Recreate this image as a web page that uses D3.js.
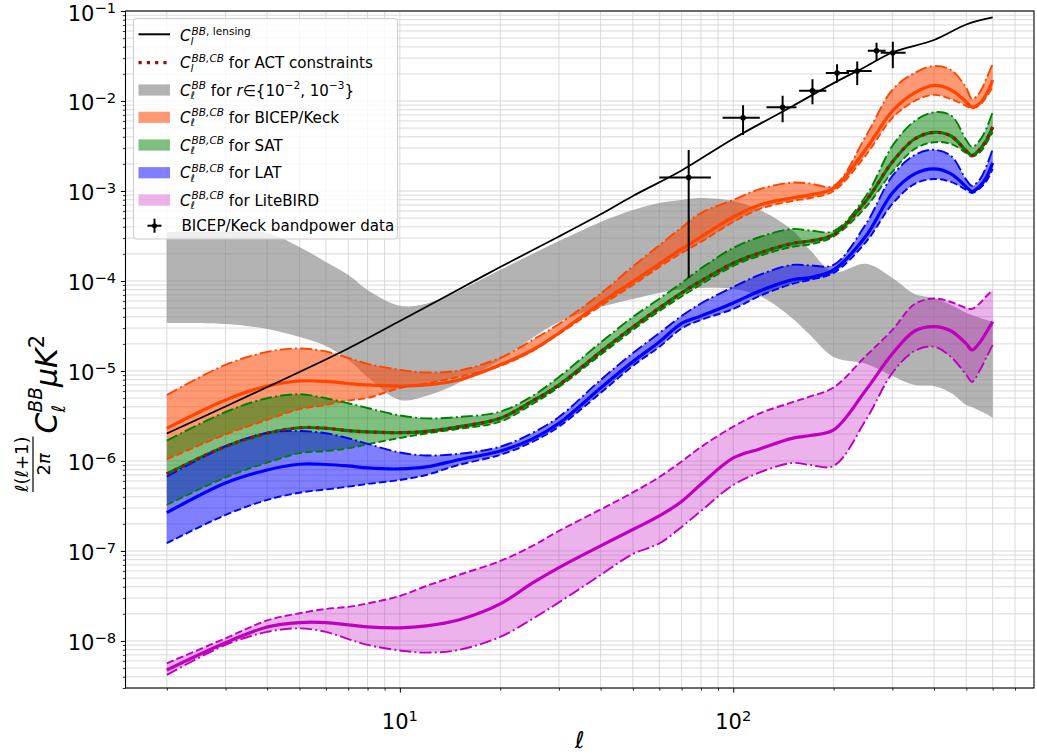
<!DOCTYPE html>
<html><head><meta charset="utf-8">
<script src="https://cdn.jsdelivr.net/npm/d3@7"></script>
<style>body{margin:0;background:#fff} svg{display:block} text{white-space:pre}</style>
</head><body><svg id="c" width="1037" height="755"></svg>
<script>
// ---------------- data ----------------
const ell = [2,3,4,5,6,7,8,10,12,15,20,25,30,40,50,60,70,80,100,120,150,170,200,250,300,350,400,450,500,520,550,575,600];
const lensEll = [2,3,5,7,10,15,20,30,40,50,70,100,150,200,250,300,400,500,600];
const lensBB = [2.02e-6,4.03e-6,9.75e-6,1.78e-5,3.59e-5,8.05e-5,1.43e-4,3.12e-4,5.51e-4,8.80e-4,1.69e-3,3.81e-3,8.70e-3,1.58e-2,2.42e-2,3.46e-2,4.76e-2,7.08e-2,8.47e-2];
const rTop = [3.50e-4,3.50e-4,3.42e-4,2.39e-4,1.63e-4,1.17e-4,7.94e-5,5.30e-5,5.60e-5,7.74e-5,1.33e-4,2.00e-4,2.78e-4,4.53e-4,6.15e-4,7.36e-4,7.94e-4,8.36e-4,7.74e-4,6.15e-4,3.69e-4,2.21e-4,1.26e-4,1.55e-4,1.08e-4,7.17e-5,6.47e-5,5.41e-5,4.41e-5,4.19e-5,3.88e-5,3.69e-5,3.50e-5];
const rBot = [3.42e-5,3.33e-5,2.93e-5,2.39e-5,1.90e-5,1.33e-5,8.58e-6,4.76e-6,5.28e-6,7.36e-6,1.33e-5,2.33e-5,3.50e-5,5.14e-5,6.31e-5,7.36e-5,8.15e-5,8.36e-5,8.15e-5,6.81e-5,3.88e-5,2.51e-5,1.43e-5,1.20e-5,8.80e-6,6.99e-6,6.81e-6,5.70e-6,4.19e-6,3.98e-6,3.59e-6,3.33e-6,3.01e-6];
const bkUp = [5.41e-6,1.17e-5,1.63e-5,1.78e-5,1.65e-5,1.40e-5,1.20e-5,1.03e-5,9.62e-6,1.01e-5,1.40e-5,2.21e-5,3.33e-5,7.23e-5,1.45e-4,2.49e-4,3.93e-4,5.70e-4,7.94e-4,1.05e-3,1.24e-3,1.21e-3,1.14e-3,4.08e-3,1.33e-2,2.05e-2,2.45e-2,2.21e-2,1.40e-2,1.05e-2,1.26e-2,1.80e-2,2.58e-2];
const bkMid = [2.30e-6,4.76e-6,6.81e-6,7.74e-6,7.65e-6,7.26e-6,6.99e-6,6.81e-6,6.99e-6,7.94e-6,1.17e-5,1.71e-5,2.64e-5,5.70e-5,9.87e-5,1.55e-4,2.27e-4,3.08e-4,5.14e-4,6.99e-4,8.36e-4,9.03e-4,1.08e-3,2.93e-3,7.74e-3,1.23e-2,1.49e-2,1.33e-2,9.75e-3,8.58e-3,9.50e-3,1.20e-2,1.71e-2];
const bkLow = [1.04e-6,1.97e-6,2.86e-6,3.76e-6,4.19e-6,4.70e-6,5.01e-6,6.47e-6,7.26e-6,8.58e-6,1.14e-5,1.67e-5,2.58e-5,5.28e-5,9.03e-5,1.43e-4,2.05e-4,2.71e-4,4.53e-4,6.31e-4,7.74e-4,8.36e-4,1.00e-3,2.51e-3,6.47e-3,1.00e-2,1.17e-2,1.05e-2,8.80e-3,8.25e-3,9.14e-3,1.11e-2,1.43e-2];
const satUp = [1.68e-6,3.50e-6,4.98e-6,5.51e-6,4.98e-6,4.38e-6,3.88e-6,3.20e-6,2.97e-6,3.08e-6,3.53e-6,5.28e-6,8.58e-6,2.07e-5,3.98e-5,6.36e-5,9.50e-5,1.38e-4,2.33e-4,3.08e-4,3.78e-4,3.64e-4,3.59e-4,8.80e-4,3.16e-3,6.00e-3,7.49e-3,6.90e-3,3.69e-3,3.08e-3,3.69e-3,5.01e-3,7.55e-3];
const satMid = [7.17e-7,1.45e-6,2.03e-6,2.34e-6,2.31e-6,2.17e-6,2.10e-6,2.06e-6,2.13e-6,2.39e-6,2.98e-6,4.64e-6,6.99e-6,1.63e-5,3.08e-5,5.01e-5,7.36e-5,1.00e-4,1.58e-4,2.05e-4,2.61e-4,2.78e-4,3.28e-4,7.74e-4,2.10e-3,3.78e-3,4.49e-3,4.08e-3,2.78e-3,2.48e-3,2.93e-3,3.69e-3,5.14e-3];
const satLow = [3.24e-7,6.56e-7,9.57e-7,1.22e-6,1.29e-6,1.38e-6,1.53e-6,1.80e-6,2.02e-6,2.27e-6,2.73e-6,4.30e-6,6.64e-6,1.51e-5,2.86e-5,4.64e-5,6.73e-5,9.14e-5,1.47e-4,1.90e-4,2.39e-4,2.55e-4,3.12e-4,6.64e-4,1.63e-3,2.93e-3,3.48e-3,3.33e-3,2.64e-3,2.42e-3,2.71e-3,3.42e-3,4.53e-3];
const actBB = [7.17e-7,1.45e-6,2.03e-6,2.34e-6,2.31e-6,2.17e-6,2.10e-6,2.06e-6,2.13e-6,2.39e-6,2.98e-6,4.64e-6,6.99e-6,1.63e-5,3.08e-5,5.01e-5,7.36e-5,1.00e-4,1.58e-4,2.05e-4,2.61e-4,2.78e-4,3.28e-4,7.74e-4,2.10e-3,3.78e-3,4.49e-3,4.08e-3,2.78e-3,2.48e-3,2.93e-3,3.69e-3,5.14e-3];
const latUp = [6.69e-7,1.45e-6,2.05e-6,2.15e-6,2.03e-6,1.79e-6,1.55e-6,1.24e-6,1.15e-6,1.20e-6,1.44e-6,2.05e-6,3.08e-6,7.94e-6,1.58e-5,2.64e-5,4.08e-5,5.62e-5,8.58e-5,1.17e-4,1.51e-4,1.49e-4,1.51e-4,4.30e-4,1.47e-3,2.51e-3,2.87e-3,2.45e-3,1.33e-3,1.14e-3,1.36e-3,1.90e-3,2.93e-3];
const latMid = [2.66e-7,5.70e-7,7.94e-7,9.19e-7,9.14e-7,8.80e-7,8.36e-7,8.15e-7,8.58e-7,1.03e-6,1.29e-6,1.76e-6,2.62e-6,6.47e-6,1.27e-5,2.10e-5,3.37e-5,4.08e-5,5.70e-5,7.74e-5,1.03e-4,1.09e-4,1.33e-4,3.16e-4,9.50e-4,1.55e-3,1.76e-3,1.55e-3,1.11e-3,9.87e-4,1.14e-3,1.43e-3,2.05e-3];
const latLow = [1.22e-7,2.51e-7,3.69e-7,4.44e-7,4.82e-7,5.18e-7,5.55e-7,6.15e-7,6.99e-7,9.03e-7,1.17e-6,1.63e-6,2.41e-6,5.70e-6,1.14e-5,1.85e-5,2.97e-5,3.69e-5,4.89e-5,6.81e-5,9.26e-5,1.03e-4,1.23e-4,2.71e-4,7.17e-4,1.20e-3,1.36e-3,1.26e-3,1.03e-3,9.50e-4,1.08e-3,1.29e-3,1.76e-3];
const lbUp = [5.65e-9,1.07e-8,1.69e-8,2.03e-8,2.27e-8,2.39e-8,2.61e-8,3.16e-8,4.08e-8,5.41e-8,7.74e-8,1.14e-7,1.67e-7,2.89e-7,4.47e-7,6.64e-7,9.87e-7,1.43e-6,2.41e-6,3.38e-6,4.48e-6,5.21e-6,6.56e-6,1.47e-5,2.86e-5,5.55e-5,6.38e-5,5.84e-5,5.01e-5,4.89e-5,5.70e-5,6.81e-5,7.94e-5];
const lbMid = [4.76e-9,9.57e-9,1.43e-8,1.60e-8,1.60e-8,1.51e-8,1.43e-8,1.40e-8,1.47e-8,1.71e-8,2.58e-8,4.41e-8,6.54e-8,1.14e-7,1.73e-7,2.45e-7,3.55e-7,5.51e-7,1.08e-6,1.36e-6,1.78e-6,1.92e-6,2.21e-6,6.15e-6,1.55e-5,2.78e-5,3.11e-5,2.78e-5,2.00e-5,1.71e-5,2.10e-5,2.71e-5,3.53e-5];
const lbLow = [4.19e-9,9.03e-9,1.26e-8,1.38e-8,1.26e-8,1.05e-8,9.03e-9,7.84e-9,7.42e-9,7.94e-9,1.11e-8,1.76e-8,2.68e-8,5.41e-8,9.26e-8,1.21e-7,1.85e-7,2.78e-7,5.41e-7,7.45e-7,9.50e-7,9.03e-7,8.80e-7,2.86e-6,9.50e-6,1.67e-5,1.86e-5,1.43e-5,9.03e-6,7.55e-6,1.03e-5,1.43e-5,1.95e-5];
// BICEP/Keck bandpowers
const bpEll   = [73.5,107,140.6,172.8,204.8,235.4,269,301];
const bpEllLo = [60,92.9,125.8,157.6,189.5,218.4,253.1,276.8];
const bpEllHi = [85.7,120.1,154.7,190.2,222.5,260.2,286.5,328.9];
const bpBB    = [1.41e-3,6.52e-3,8.51e-3,1.30e-2,2.05e-2,2.15e-2,3.62e-2,3.44e-2];
const bpLo    = [1.08e-4,4.19e-3,5.80e-3,9.19e-3,1.60e-2,1.51e-2,2.81e-2,2.31e-2];
const bpHi    = [2.85e-3,8.95e-3,1.14e-2,1.74e-2,2.56e-2,2.74e-2,4.45e-2,4.56e-2];
// tick labels (exponents of ten)
const xTickExp = [1,2];
const yTickExp = [-1,-2,-3,-4,-5,-6,-7,-8];

// ---------------- layout ----------------
const svg = d3.select("#c");
const L=125.5, R=1034, T=11, B=688;
const x = d3.scaleLog().domain([1.5036, 798]).range([L, R]);
const y = d3.scaleLog().domain([3e-9, 0.1]).range([B, T]);
const FONT = "DejaVu Sans";
const CURVE = d3.curveCatmullRom.alpha(0.5);

svg.append("rect").attr("width",1037).attr("height",755).attr("fill","#fff");
svg.append("defs").append("clipPath").attr("id","clip").append("rect")
  .attr("x",L).attr("y",T).attr("width",R-L).attr("height",B-T);

const isMajor = v => Math.abs(Math.log10(v) - Math.round(Math.log10(v))) < 1e-6;
const xt = x.ticks().filter(v => v >= x.domain()[0] && v <= x.domain()[1]);
const yt = y.ticks().filter(v => v >= y.domain()[0]*0.999 && v <= y.domain()[1]*1.001);

// grid
const grid = svg.append("g").attr("stroke","#d6d6d6").attr("stroke-width",0.9);
grid.selectAll("line.gx").data(xt).join("line").attr("x1",d=>x(d)).attr("x2",d=>x(d)).attr("y1",T).attr("y2",B);
grid.selectAll("line.gy").data(yt).join("line").attr("y1",d=>y(d)).attr("y2",d=>y(d)).attr("x1",L).attr("x2",R);

// ---------------- marks ----------------
const plot = svg.append("g").attr("clip-path","url(#clip)");
const area = (lo, hi) => d3.area().x((d,i)=>x(ell[i])).y0((d,i)=>y(lo[i])).y1((d,i)=>y(hi[i])).curve(CURVE)(ell);
const line = (vals, e) => d3.line().x((d,i)=>x(e[i])).y(d=>y(d)).curve(CURVE)(vals);
const DASH = "7.4,3.2", DASHDOT = "12,3.2,2,3.2";

plot.append("path").attr("d",area(rBot,rTop)).attr("fill","#808080").attr("fill-opacity",0.6);
const bands = [
  {lo:bkLow, mid:bkMid, hi:bkUp,  c:"#ff4500", op:0.55, hiDash:DASHDOT, loDash:DASH},
  {lo:satLow,mid:satMid,hi:satUp, c:"#008000", op:0.5,  hiDash:DASHDOT, loDash:DASH},
  {lo:latLow,mid:latMid,hi:latUp, c:"#0000ff", op:0.5,  hiDash:DASHDOT, loDash:DASH},
  {lo:lbLow, mid:lbMid, hi:lbUp,  c:"#bf00bf", op:0.3,  hiDash:DASH,    loDash:DASHDOT}
];
bands.forEach(b => plot.append("path").attr("d",area(b.lo,b.hi)).attr("fill",b.c).attr("fill-opacity",b.op));
bands.forEach(b => {
  plot.append("path").attr("d",line(b.hi,ell)).attr("fill","none").attr("stroke",b.c).attr("stroke-width",1.9).attr("stroke-dasharray",b.hiDash);
  plot.append("path").attr("d",line(b.lo,ell)).attr("fill","none").attr("stroke",b.c).attr("stroke-width",1.9).attr("stroke-dasharray",b.loDash);
  plot.append("path").attr("d",line(b.mid,ell)).attr("fill","none").attr("stroke",b.c).attr("stroke-width",3.2);
});
plot.append("path").attr("d",line(lensBB,lensEll)).attr("fill","none").attr("stroke","#000").attr("stroke-width",1.8);
plot.append("path").attr("d",line(actBB,ell)).attr("fill","none").attr("stroke","#a00d0d").attr("stroke-width",3.2).attr("stroke-dasharray","3.2,5.1");

// error bars
const eb = plot.append("g").attr("stroke","#000").attr("stroke-width",2);
bpEll.forEach((l,i) => {
  eb.append("line").attr("x1",x(bpEllLo[i])).attr("x2",x(bpEllHi[i])).attr("y1",y(bpBB[i])).attr("y2",y(bpBB[i]));
  eb.append("line").attr("x1",x(l)).attr("x2",x(l)).attr("y1",y(bpLo[i])).attr("y2",y(bpHi[i]));
});
plot.selectAll("circle.bp").data(bpEll).join("circle").attr("cx",d=>x(d)).attr("cy",(d,i)=>y(bpBB[i])).attr("r",2.8).attr("fill","#000");

// ---------------- math text helper ----------------
function seg(g, px, py, size, segs) {
  const t = g.append("text").attr("x",px).attr("y",py).attr("font-size",size).attr("font-family",FONT).attr("fill","#000");
  segs.forEach(s => t.append("tspan").attr("font-style", s.it ? "italic" : "normal").text(s.t));
  return t.node().getComputedTextLength();
}
function math(g, px, py, size, parts) {
  let cx = px;
  parts.forEach(p => {
    if (p.sup || p.sub) {
      const w1 = p.sup ? seg(g, cx + (p.sdx||0), py - size*(p.up||0.42), size*(p.ss||0.7), p.sup) + (p.sdx||0) : 0;
      const w2 = p.sub ? seg(g, cx, py + size*(p.dn||0.22), size*(p.ss||0.7), p.sub) : 0;
      cx += Math.max(w1, w2);
    } else if (p.gap) cx += p.gap;
    else cx += seg(g, cx, py, p.size || size, [p]);
  });
  return cx - px;
}

// ---------------- axes ----------------
const ax = svg.append("g");
const ayMaj = d3.axisLeft(y).tickValues(yt.filter(isMajor)).tickSize(4.7).tickFormat("");
const ayMin = d3.axisLeft(y).tickValues(yt.filter(v=>!isMajor(v))).tickSize(2.7).tickFormat("");
const axMaj = d3.axisBottom(x).tickValues(xt.filter(isMajor)).tickSize(4.7).tickFormat("");
const axMin = d3.axisBottom(x).tickValues(xt.filter(v=>!isMajor(v))).tickSize(2.7).tickFormat("");
[[ayMaj,`translate(${L},0)`,1],[ayMin,`translate(${L},0)`,0.8],[axMaj,`translate(0,${B})`,1],[axMin,`translate(0,${B})`,0.8]].forEach(([a,tr,w])=>{
  const g = ax.append("g").attr("transform",tr).call(a);
  g.select(".domain").remove();
  g.selectAll("line").attr("stroke","#000").attr("stroke-width",w);
});
svg.append("rect").attr("x",L).attr("y",T).attr("width",R-L).attr("height",B-T).attr("fill","none").attr("stroke","#000").attr("stroke-width",1.1);

yTickExp.forEach(k => {
  const g = svg.append("g");
  const w = math(g, 0, 0, 21, [{t:"10"},{sup:[{t:"\u2212"+(-k)}],up:0.36}]);
  g.attr("transform",`translate(${L-4.7-4.7-w},${y(Math.pow(10,k))+9.5})`);
});
xTickExp.forEach(k => {
  const g = svg.append("g");
  const w = math(g, 0, 0, 21, [{t:"10"},{sup:[{t:String(k)}],up:0.38}]);
  g.attr("transform",`translate(${x(Math.pow(10,k))-w/2},729)`);
});
// x label
svg.append("text").attr("x",(L+R)/2).attr("y",748).attr("text-anchor","middle").attr("font-family",FONT)
  .attr("font-size",23).attr("font-style","italic").text("\u2113");
// y label (rotated)
{
  const g = svg.append("g").attr("transform","translate(57,492) rotate(-90)");
  const wn = seg(g, 0, -29, 18, [{t:"\u2113",it:true},{t:"("},{t:"\u2113",it:true},{t:"+1)"}]);
  g.append("line").attr("x1",0).attr("x2",wn).attr("y1",-24).attr("y2",-24).attr("stroke","#000").attr("stroke-width",1.2);
  const gd = g.append("g");
  const wd = seg(gd, 0, -7, 18, [{t:"2"},{t:"\u03c0",it:true}]);
  gd.attr("transform",`translate(${(wn-wd)/2},0)`);
  math(g, wn + 3, 0, 30, [{t:"C",it:true},{sup:[{t:"BB",it:true}],sub:[{t:"\u2113",it:true}],up:0.5,dn:0.25,ss:0.62},{t:"\u03bcK",it:true},{sup:[{t:"2"}],up:0.45,ss:0.7}]);
}

// ---------------- legend ----------------
const lg = svg.append("g");
lg.append("rect").attr("x",133.5).attr("y",18.5).attr("width",264).attr("height",220.5).attr("rx",3)
  .attr("fill","#fff").attr("fill-opacity",0.8).attr("stroke","#cccccc").attr("stroke-width",1);
const lyc = [34.3,62.7,90,117.3,145,172.7,200,225.7];
const FS = 15.1;
const hx0 = 138.5, hx1 = 170, tx = 180;
lg.append("line").attr("x1",hx0).attr("x2",hx1).attr("y1",lyc[0]).attr("y2",lyc[0]).attr("stroke","#000").attr("stroke-width",2);
lg.append("line").attr("x1",hx0).attr("x2",hx1).attr("y1",lyc[1]).attr("y2",lyc[1]).attr("stroke","#a00d0d").attr("stroke-width",3.2).attr("stroke-dasharray","3.2,5.1");
[["#808080",0.6],["#ff4500",0.55],["#008000",0.5],["#0000ff",0.5],["#bf00bf",0.3]].forEach(([c,o],i)=>{
  lg.append("rect").attr("x",hx0).attr("y",lyc[i+2]-5.6).attr("width",hx1-hx0).attr("height",11.2).attr("fill",c).attr("fill-opacity",o);
});
lg.append("line").attr("x1",147.5).attr("x2",161.5).attr("y1",lyc[7]).attr("y2",lyc[7]).attr("stroke","#000").attr("stroke-width",2);
lg.append("line").attr("x1",154.5).attr("x2",154.5).attr("y1",lyc[7]-7).attr("y2",lyc[7]+7).attr("stroke","#000").attr("stroke-width",2);
lg.append("circle").attr("cx",154.5).attr("cy",lyc[7]).attr("r",2.5).attr("fill","#000");

const CBB = [{t:"BB,",it:true},{t:"CB",it:true}];
math(lg, tx, lyc[0]+7, FS, [{t:"C",it:true},{sup:[{t:"BB",it:true},{t:", lensing"}],sub:[{t:"l",it:true}],sdx:1}]);
math(lg, tx, lyc[1]+5.5, FS, [{t:"C",it:true},{sup:CBB,sub:[{t:"l",it:true}],sdx:1},{t:" for ACT constraints"}]);
math(lg, tx, lyc[2]+5.5, FS, [{t:"C",it:true},{sup:[{t:"BB",it:true}],sub:[{t:"\u2113",it:true}],sdx:1},{t:" for "},{t:"r",it:true},{t:"\u2208{10"},{sup:[{t:"\u22122"}]},{t:", 10"},{sup:[{t:"\u22123"}]},{t:"}"}]);
["BICEP/Keck","SAT","LAT","LiteBIRD"].forEach((nm,i)=>{
  math(lg, tx, lyc[i+3]+5.5, FS, [{t:"C",it:true},{sup:CBB,sub:[{t:"\u2113",it:true}],sdx:1},{t:" for "+nm}]);
});
seg(lg, 181.5, lyc[7]+5, FS, [{t:"BICEP/Keck bandpower data"}]);
</script>
</body></html>
